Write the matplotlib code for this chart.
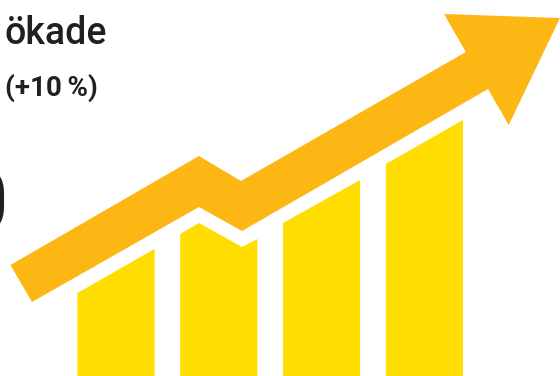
import matplotlib
matplotlib.use('Agg')
import matplotlib.pyplot as plt

plt.rcParams['font.family'] = ['Roboto', 'DejaVu Sans']

# bar tops, heights above the baseline at the left and right edge of each bar
bar_index = [0, 1, 2, 3]
bar_left_top = [83, 142, 153, 212]
bar_right_top = [127, 137, 196, 256]
bar_width = 0.75

# the second bar follows the dip in the trend
dip_x = [0.807, 1.226]
dip_top = [153, 129]

# trend arrow outline, shaft upper edge then head then shaft lower edge
arrow_x = [-1.026, 0.807, 1.216, 3.403, 3.191, 4.319, 3.820, 3.619, 1.226, 0.807, -0.817]
arrow_y = [111, 220, 195, 324, 362, 358, 251, 287, 145, 169, 74]

label_word = 'ökade'
label_change = '(+10\u2009%)'
label_big = '0'

yellow = '#ffdd00'
orange = '#fdb714'
ink = '#231f20'

fig = plt.figure(figsize=(5.6, 3.76), dpi=100)
ax = fig.add_axes([0, 0, 1, 1])
ax.set_xlim(-1.128, 4.319)
ax.set_ylim(0, 376)
ax.axis('off')

for i, left, right in zip(bar_index, bar_left_top, bar_right_top):
    x0 = i - bar_width / 2
    x1 = i + bar_width / 2
    if i == 1:
        xs = [x0, dip_x[0], dip_x[1], x1, x1, x0]
        ys = [left, dip_top[0], dip_top[1], right, 0, 0]
    else:
        xs = [x0, x1, x1, x0]
        ys = [left, right, 0, 0]
    ax.fill(xs, ys, color=yellow, lw=0)

ax.fill(arrow_x, arrow_y, color=orange, lw=0)

fig.text(5 / 560, 1 - 44 / 376, label_word, fontsize=27, color=ink, fontweight='medium', va='baseline')
fig.text(5 / 560, 1 - 96 / 376, label_change, fontsize=20, color=ink, fontweight='bold', va='baseline')
fig.text(8 / 560, 1 - 231 / 376, label_big, fontsize=63, color=ink, fontweight='bold', ha='right', va='baseline')

fig.savefig('out.png', dpi=100)
